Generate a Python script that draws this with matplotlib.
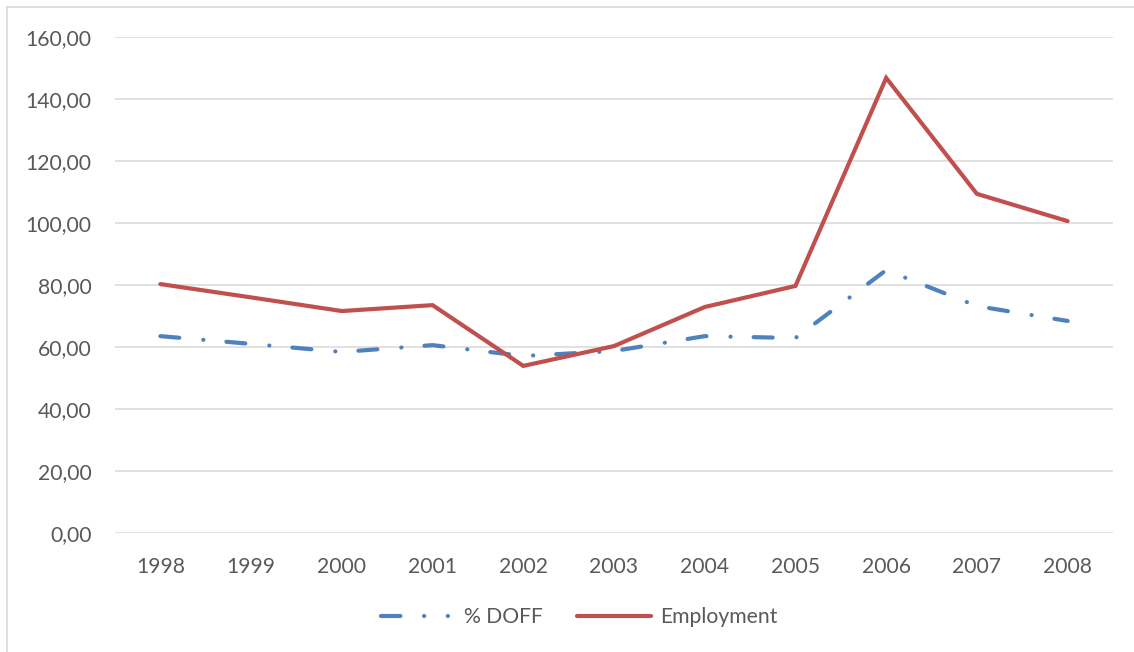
import matplotlib
matplotlib.use("Agg")
import matplotlib.pyplot as plt
from matplotlib.lines import Line2D
from matplotlib.ticker import FuncFormatter

# values
years = ["1998", "1999", "2000", "2001", "2002", "2003", "2004", "2005", "2006", "2007", "2008"]
doff = [63.5, 61.0, 58.4, 60.6, 57.1, 58.7, 63.5, 62.9, 84.8, 73.2, 68.4]
employment = [80.3, 76.0, 71.6, 73.5, 53.9, 60.3, 72.9, 79.7, 146.8, 109.4, 100.6]

plt.rcParams['font.family'] = ['Lato', 'DejaVu Sans']
plt.rcParams['lines.scale_dashes'] = False

W, H = 1134, 652
fig = plt.figure(figsize=(W / 100, H / 100), dpi=100)
# axes box in pixels: left 115, right 1113, top 37, bottom 533
ax = fig.add_axes([115 / W, 1 - 533 / H, (1113 - 115) / W, (533 - 37) / H])

x = list(range(len(years)))
blue = "#4f81bd"
red = "#c0504d"

ax.plot(x, doff, color=blue, lw=3.0, dashes=(13.7, 17.3, 0.1, 16.6),
        dash_capstyle='round', solid_capstyle='round', label="% DOFF", zorder=3)
ax.plot(x, employment, color=red, lw=3.0, solid_capstyle='round',
        solid_joinstyle='miter', label="Employment", zorder=4)

ax.set_xlim(-0.5, len(years) - 0.5)
ax.set_ylim(0, 160)
ax.set_yticks(range(0, 161, 20))
ax.yaxis.set_major_formatter(FuncFormatter(lambda v, p: f"{v:.2f}".replace(".", ",")))
ax.set_xticks(x)
ax.set_xticklabels(years)

ax.grid(axis='y', color="#d9d9d9", lw=1.1)
ax.set_axisbelow(True)
for s in ax.spines.values():
    s.set_visible(False)
ax.tick_params(length=0, labelsize=15.2, labelcolor="#595959")
ax.tick_params(axis='y', pad=17)
ax.tick_params(axis='x', pad=17)

leg = fig.legend(loc='center', bbox_to_anchor=(579 / W, 1 - 617 / H), ncol=2,
                 frameon=False, fontsize=15.2, handlelength=3.5, columnspacing=1.6,
                 handletextpad=0.45)
for t in leg.get_texts():
    t.set_color("#595959")
# legend sample for the dash-dot line: dash, dot, dot
leg.get_lines()[0].set_dashes((14.0, 17.0, 0.1, 17.0, 0.1, 30.0))

# chart frame (left and top edges visible)
fig.add_artist(Line2D([7 / W, 7 / W], [0, 1 - 7 / H], color="#d9d9d9", lw=1.2))
fig.add_artist(Line2D([7 / W, 1], [1 - 7 / H, 1 - 7 / H], color="#d9d9d9", lw=1.2))

fig.savefig("out.png", dpi=100)
